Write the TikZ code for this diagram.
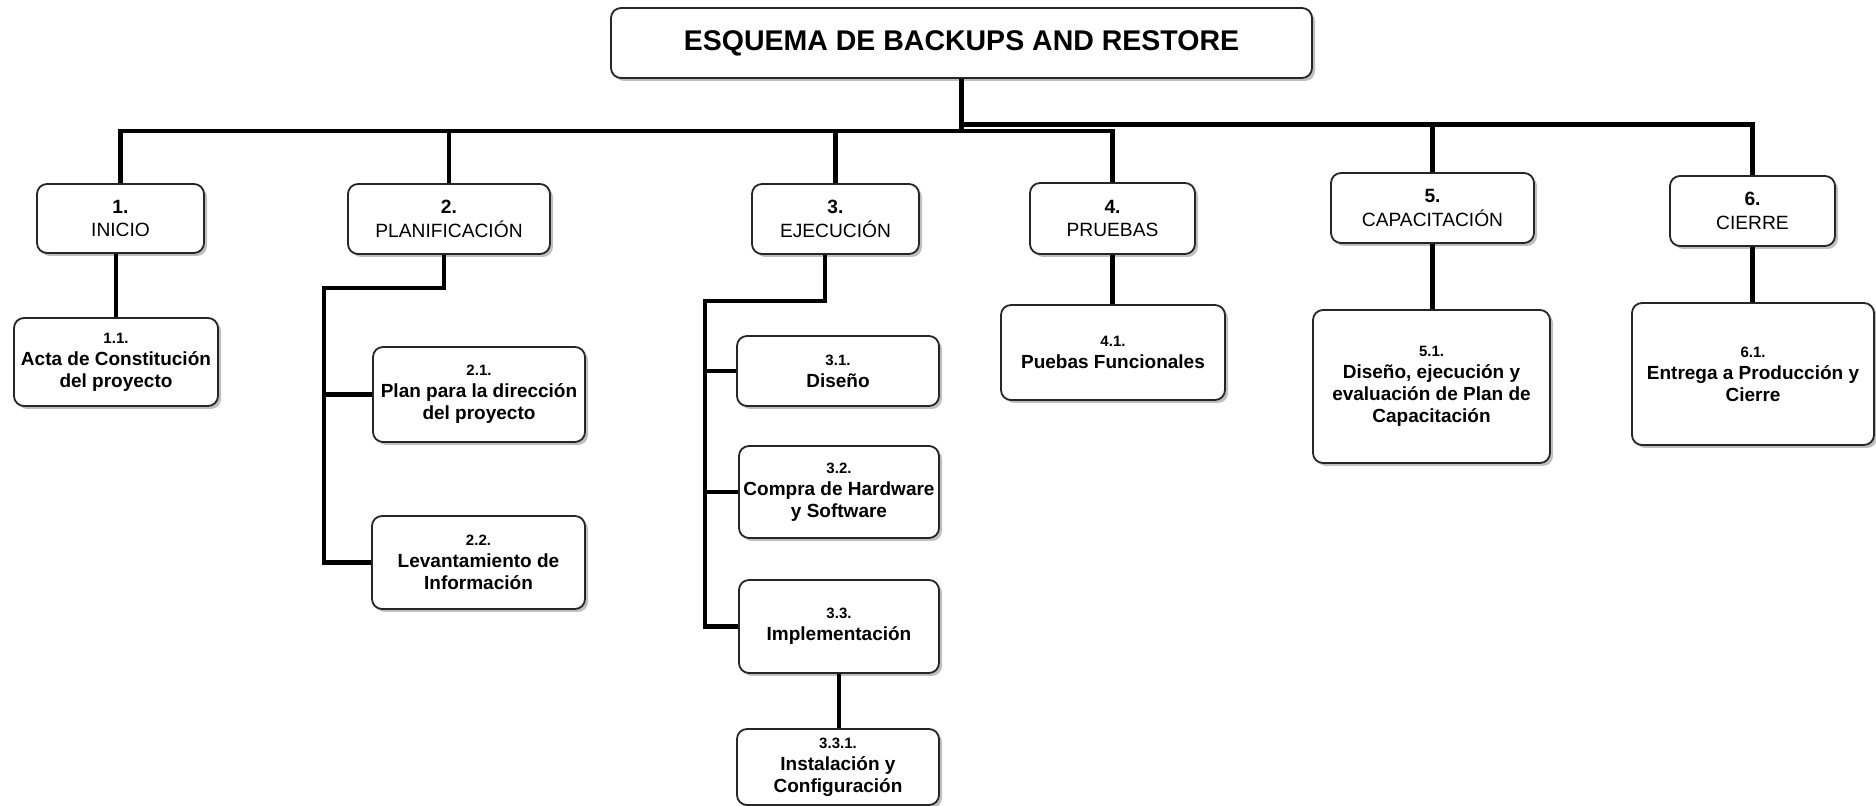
\documentclass[tikz,border=0pt]{standalone}
\usepackage{fontspec}
\setmainfont{Liberation Sans}
\usetikzlibrary{shadows}
\tikzset{
  box/.style={draw=black!85, line width=0.9pt, fill=white, rounded corners=5pt,
    align=center, inner sep=0pt,
    font=\bfseries\fontsize{9.5pt}{11pt}\selectfont,
    drop shadow={shadow xshift=1.5pt, shadow yshift=-1.5pt, fill=black, opacity=0.25}},
  lvlbox/.style={box, font=\fontsize{9.6pt}{11.7pt}\selectfont},
  titlebox/.style={box, font=\bfseries\fontsize{14.25pt}{16pt}\selectfont},
  conn/.style={line width=2.3pt, black},
}
\newcommand\numA[1]{{\bfseries\fontsize{9.6pt}{11.7pt}\selectfont #1}}
\newcommand\numB[1]{{\fontsize{7.5pt}{9pt}\selectfont #1}}
\begin{document}
\begin{tikzpicture}[x=0.5pt, y=-0.5pt]
\useasboundingbox[fill=white] (0,0) rectangle (1876,806);

% title
\node[titlebox, minimum width=350.5pt, minimum height=35pt] (T) at (961.5,43) {ESQUEMA DE BACKUPS AND RESTORE};

% level 1
\node[lvlbox, minimum width=83.5pt, minimum height=34.5pt] (B1) at (120.5,218.5) {\numA{1.}\\INICIO};
\node[lvlbox, minimum width=101pt, minimum height=35pt] (B2) at (449,219) {\numA{2.}\\PLANIFICACIÓN};
\node[lvlbox, minimum width=83.5pt, minimum height=35pt] (B3) at (835.5,219) {\numA{3.}\\EJECUCIÓN};
\node[lvlbox, minimum width=82.5pt, minimum height=35.5pt] (B4) at (1112.5,218.5) {\numA{4.}\\PRUEBAS};
\node[lvlbox, minimum width=101.5pt, minimum height=35pt] (B5) at (1432.5,208) {\numA{5.}\\CAPACITACIÓN};
\node[lvlbox, minimum width=82.5pt, minimum height=35pt] (B6) at (1752.5,211) {\numA{6.}\\CIERRE};

% level 2
\node[box, minimum width=102pt, minimum height=44pt] (B11) at (116,362) {\numB{1.1.}\\Acta de Constitución\\del proyecto};
\node[box, minimum width=106pt, minimum height=47.5pt] (B21) at (479,394.5) {\numB{2.1.}\\Plan para la dirección\\del proyecto};
\node[box, minimum width=106.5pt, minimum height=46.5pt] (B22) at (478.5,562.5) {\numB{2.2.}\\Levantamiento de\\Información};
\node[box, minimum width=101pt, minimum height=35pt] (B31) at (838,371) {\numB{3.1.}\\Diseño};
\node[box, minimum width=100pt, minimum height=46pt] (B32) at (839,492) {\numB{3.2.}\\Compra de Hardware\\y Software};
\node[box, minimum width=100pt, minimum height=46.5pt] (B33) at (839,626.5) {\numB{3.3.}\\Implementación};
\node[box, minimum width=101pt, minimum height=38pt] (B331) at (838,767) {\numB{3.3.1.}\\Instalación y\\Configuración};
\node[box, minimum width=112pt, minimum height=47.5pt] (B41) at (1113,352.5) {\numB{4.1.}\\Puebas Funcionales};
\node[box, minimum width=118.5pt, minimum height=76.5pt] (B51) at (1431.5,386.5) {\numB{5.1.}\\Diseño, ejecución y\\evaluación de Plan de\\Capacitación};
\node[box, minimum width=121pt, minimum height=71pt] (B61) at (1753,374) {\numB{6.1.}\\Entrega a Producción y\\Cierre};

% bus levels
\coordinate (busA) at (0,131);
\coordinate (busB) at (0,124.5);
\coordinate (c2) at (324,288);
\coordinate (c3) at (705,301);

% title to level 1
\draw[conn] (T.south) |- (B1.north |- busA) -- (B1.north);
\draw[conn] (T.south) |- (B2.north |- busA) -- (B2.north);
\draw[conn] (T.south) |- (B3.north |- busA) -- (B3.north);
\draw[conn] (T.south) |- (B4.north |- busA) -- (B4.north);
\draw[conn] (T.south) |- (B5.north |- busB) -- (B5.north);
\draw[conn] (T.south) |- (B6.north |- busB) -- (B6.north);

% level 1 to level 2
\draw[conn] (B11.north |- B1.south) -- (B11.north);
\draw[conn] ([xshift=-2.5pt]B2.south) |- (c2) |- (B22.west);
\draw[conn] (c2 |- B21.west) -- (B21.west);
\draw[conn] ([xshift=-5.25pt]B3.south) |- (c3) |- (B33.west);
\draw[conn] (c3 |- B31.west) -- (B31.west);
\draw[conn] (c3 |- B32.west) -- (B32.west);
\draw[conn] (B33.south) -- (B33.south |- B331.north);
\draw[conn] (B4.south) -- (B4.south |- B41.north);
\draw[conn] (B5.south) -- (B5.south |- B51.north);
\draw[conn] (B6.south) -- (B6.south |- B61.north);
\end{tikzpicture}
\end{document}
